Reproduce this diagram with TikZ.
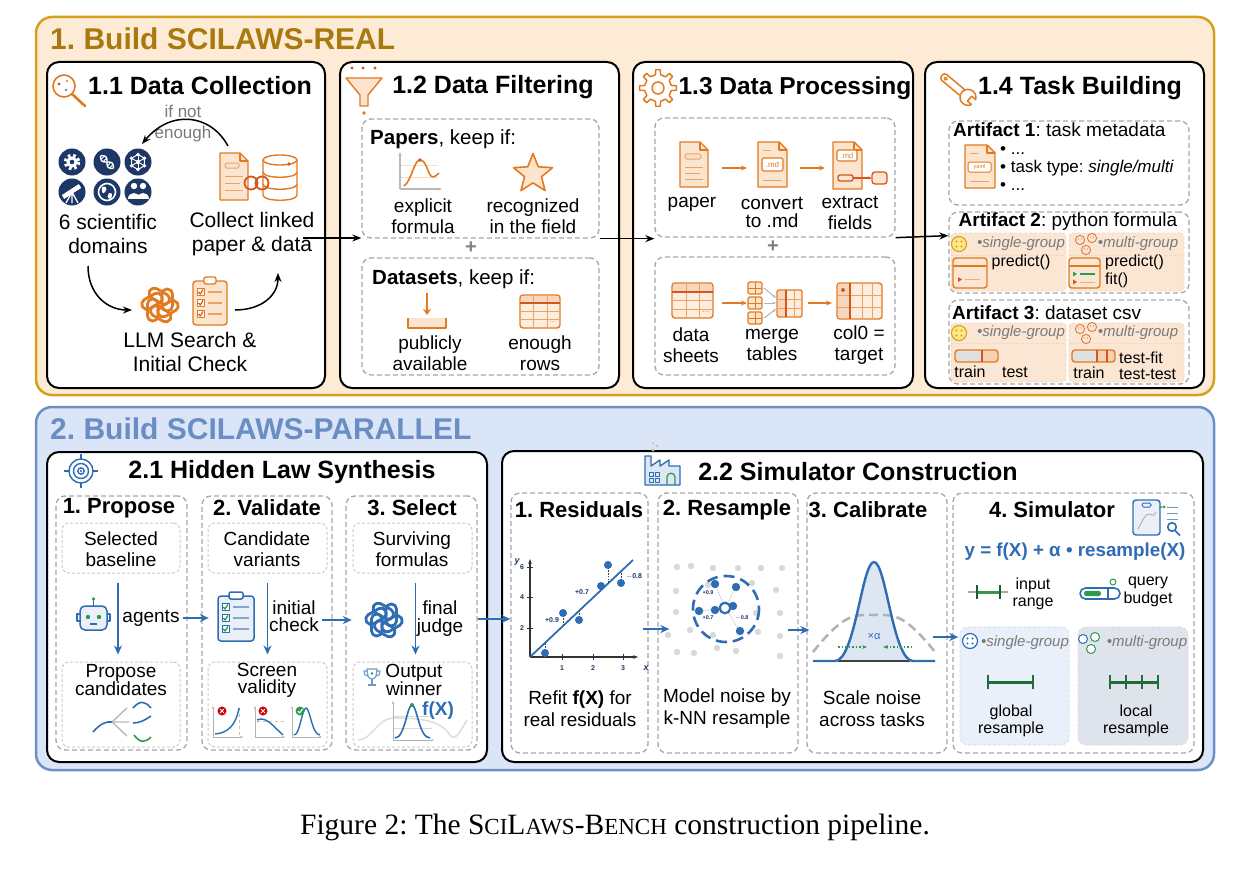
\documentclass[tikz,border=0pt]{standalone}
\usepackage{fontspec}
\setmainfont{Liberation Sans}
\newfontfamily\capfont{Liberation Serif}
\usetikzlibrary{arrows.meta,calc,fit,shapes.geometric}
\definecolor{orfill}{HTML}{FDEBD6}
\definecolor{orborder}{HTML}{D6A01E}
\definecolor{ortitle}{HTML}{A8790F}
\definecolor{oric}{HTML}{E27A22}
\definecolor{oricl}{HTML}{FCE5CF}
\definecolor{ored}{HTML}{D4561C}
\definecolor{blfill}{HTML}{DAE6F8}
\definecolor{blborder}{HTML}{6C8FC5}
\definecolor{bltitle}{HTML}{6A8DC3}
\definecolor{blic}{HTML}{2E6CB4}
\definecolor{blicl}{HTML}{DDE6F3}
\definecolor{navy}{HTML}{1D3766}
\definecolor{grn}{HTML}{2F9A4F}
\definecolor{gtxt}{HTML}{7A7A7A}
\definecolor{subor}{HTML}{FBE6D3}
\definecolor{subbl}{HTML}{EAF0FA}
\definecolor{subgr}{HTML}{DFE4EC}
\newcommand\fsz[2]{\fontsize{#1}{#2}\selectfont}
\newcommand\docic[4]{%
  \draw[draw=oric, line width=1.4, fill=oricl] (#1,#2) -- ({#3-8},#2) -- (#3,{#2+8}) -- (#3,#4) -- (#1,#4) -- cycle;
  \draw[draw=oric, line width=1.2] ({#3-8},#2) -- ({#3-8},{#2+8}) -- (#3,{#2+8});}
\tikzset{oai/.pic={\foreach \a in {0,60,...,300}{\draw[line width=2.8, rotate=\a, rounded corners=5] (2,-16) rectangle (12.5,6);}}}
\frenchspacing
\begin{document}
\frenchspacing
\begin{tikzpicture}[x=1pt,y=-1pt, line join=round,
  panel/.style={draw=black, fill=white, line width=2, rounded corners=12, inner sep=0},
  dbox/.style={draw=gray!70, dash pattern=on 5pt off 3pt, line width=1.3, rounded corners=9, inner sep=0},
  ibox/.style={draw=gray!40, dash pattern=on 3pt off 2pt, line width=1, rounded corners=7, inner sep=0},
  subp/.style={draw=oric!30, dash pattern=on 3pt off 2pt, line width=0.8, fill=subor, rounded corners=4, inner sep=0},
  txt/.style={font=\fsz{19}{21}, align=center, inner sep=0},
  big/.style={font=\fsz{21}{24}, align=center, inner sep=0},
  sml/.style={font=\fsz{16}{17.5}, align=center, inner sep=0},
  grp/.style={font=\fsz{15}{15}\itshape, text=gtxt, inner sep=0},
  sect/.style={font=\fsz{30}{32}\bfseries, anchor=west, inner sep=0},
  ptitle/.style={font=\fsz{25}{28}\bfseries, inner sep=0},
  chead/.style={font=\fsz{22}{24}\bfseries, inner sep=0},
  tiny/.style={font=\fsz{7}{7}\bfseries, text=navy, inner sep=0},
  conn/.style={-{Stealth[length=9pt,width=7pt]}, line width=1.5},
  oarr/.style={oric, line width=1.4, -{Stealth[length=6pt,width=5pt]}},
  barr/.style={blic, line width=1.6, -{Stealth[length=9pt,width=8pt]}},
  ol/.style={draw=oric, line width=1.4},
  ]
\useasboundingbox (0,0) rectangle (1234,888);
\fill[white] (0,0) rectangle (1234,888);

%================ SECTION 1 =================
\node[fit={(36,17)(1214,395)}, inner sep=0, draw=orborder, fill=orfill, line width=2.5, rounded corners=16] (s1) {};
\node[sect, text=ortitle] (s1t) at (50,39) {1. Build SCILAWS-REAL};
\node[panel, fit={(47,62)(325,388)}] (p11) {};
\node[panel, fit={(340,62)(619,388)}] (p12) {};
\node[panel, fit={(633,62)(913,388)}] (p13) {};
\node[panel, fit={(925,62)(1204,388)}] (p14) {};

%---- 1.1
\draw[oric, line width=1.6] (64,86) circle (11);
\draw[oric, line width=2.6, line cap=round] (72,94) -- (85,106);
\fill[ored] (59,84) circle (1.7); \fill[gray] (66,90) circle (1.4); \fill[oric] (67,81) circle (1.2);
\node[ptitle] (t11) at (200,86) {1.1 Data Collection};

% domains icons
\foreach \x/\y in {72/162,107/162,138/162,72/192,107/192,138/192}{\fill[navy] (\x,\y) circle (13.5);}
\draw[white, line width=3.2, dash pattern=on 2.67pt off 2.67pt] (72,162) circle (6.6);
\fill[white] (72,162) circle (5.6); \fill[navy] (72,162) circle (2.3);
\begin{scope}[shift={(107,162)}, rotate=-45]
 \draw[white, line width=1.4] (-9,0) sin (-4.5,3) cos (0,0) sin (4.5,-3) cos (9,0);
 \draw[white, line width=1.4] (-9,0) sin (-4.5,-3) cos (0,0) sin (4.5,3) cos (9,0);
 \foreach \u in {-6,-3,3,6}{\draw[white, line width=0.8] (\u,-2) -- (\u,2);}
\end{scope}
\begin{scope}[shift={(138,162)}]
 \foreach \a in {30,90,...,330}{\draw[white, line width=1] (0,0) -- (\a:7.5); \fill[white] (\a:7.5) circle (1.8);}
 \draw[white, line width=1] (30:7.5) -- (90:7.5) -- (150:7.5) -- (210:7.5) -- (270:7.5) -- (330:7.5) -- cycle;
 \fill[white] (0,0) circle (2.2);
\end{scope}
\draw[white, line width=4.5] (63,197) -- (80,186);
\draw[white, line width=1.3] (72,192) -- (66,203) (72,192) -- (78,203) (72,192) -- (72,203);
\draw[white, line width=1.6] (107,192) circle (8.5);
\fill[white] (102,187) .. controls (106,185) and (108,189) .. (105,192) .. controls (103,195) and (101,192) .. cycle;
\fill[white] (109,193) .. controls (113,192) and (113,197) .. (110,199) .. controls (107,198) and (107,195) .. cycle;
\fill[white] (134,186) circle (3.2); \fill[white] (143,186) circle (3.2);
\fill[white] (128,199) .. controls (128,191) and (140,191) .. (140,199) -- cycle;
\fill[white] (137,199) .. controls (137,191) and (149,191) .. (149,199) -- cycle;
\node[big] (dom) at (108,234) {6 scientific\\domains};

% doc + database
\docic{220}{153}{248}{200}
\draw[oric!70, line width=1, fill=oricl!40!oric!30, rounded corners=1.5] (225,163) rectangle (239,168);
\draw[oric!70, line width=1] (225,176) -- (243,176) (225,183) -- (240,183) (225,190) -- (243,190);
\draw[ol, fill=white] (263,160) -- (263,195) .. controls (263,202) and (297,202) .. (297,195) -- (297,160);
\draw[ol, fill=white] (280,160) ellipse (17 and 5);
\draw[ol] (263,172) .. controls (263,179) and (297,179) .. (297,172);
\draw[ol] (263,184) .. controls (263,191) and (297,191) .. (297,184);
\fill[ored] (289,164) circle (1.8);
\draw[ored, line width=1.8] (251,183) circle (6.5) (262,183) circle (6.5);
\node[big] (collect) at (252,234) {Collect linked\\paper \& data};

\node[font=\fsz{17}{21}, text=gtxt, align=center, inner sep=0] (ifnot) at (183,124) {if not\\enough};
\coordinate (ca1) at (228,146); \coordinate (ca2) at (142,144);
\draw[conn] (ca1) .. controls (210,113) and (170,110) .. (ca2);

% LLM search
\pic[color=oric] at (160,305) {oai};
\draw[ol, fill=oricl, rounded corners=3] (193,281) rectangle (227,325);
\draw[ol, fill=white, rounded corners=2] (204,277) rectangle (216,284);
\foreach \yy in {292,303,314}{
  \draw[oric, line width=1, fill=white] (197,{\yy-3.5}) rectangle (204,{\yy+3.5});
  \draw[ored, line width=1.2] (198.5,\yy) -- (200.3,{\yy+2}) -- (203,{\yy-2.5});
  \draw[oric!70, line width=1.2] (208,\yy) -- (222,\yy);}
\node[big] (llm) at (190,352) {LLM Search \&\\Initial Check};
\coordinate (cb1) at (88,266); \coordinate (cb2) at (132,310);
\coordinate (cc1) at (235,310); \coordinate (cc2) at (278,273);
\draw[conn] (cb1) .. controls (88,295) and (108,310) .. (cb2);
\draw[conn] (cc1) .. controls (262,310) and (278,295) .. (cc2);

%---- 1.2
\draw[ol, fill=oricl] (346,78) -- (382,78) -- (368,95) -- (368,106) -- (360,106) -- (360,95) -- cycle;
\foreach \x in {352,363,375}{\fill[ored] (\x,68) circle (1.6);}
\fill[oric] (364,113) circle (1.8);
\node[ptitle] (t12) at (493,87) {1.2 Data Filtering};
\node[dbox, fit={(362,119)(599,238)}] (papers) {};
\node[font=\fsz{20.5}{22}, inner sep=0, anchor=west] at (370,139) {\textbf{Papers}, keep if:};
\draw[oric!25, line width=0.8] (401,165) -- (438,165) (401,177) -- (438,177);
\draw[gray!55, line width=1.2, -{Stealth[length=4pt]}] (400,189) -- (400,152);
\draw[gray!55, line width=1.2, -{Stealth[length=4pt]}] (400,189) -- (442,189);
\draw[oric, line width=1.6] (404,186) .. controls (412,180) and (414,160) .. (420,160) .. controls (427,160) and (428,177) .. (433,177) .. controls (435,177) and (437,175) .. (439,173);
\fill[ored] (420,160) circle (1.8);
\node[star, star points=5, star point ratio=2.3, draw=oric, fill=oricl, line width=1.6, minimum size=41, inner sep=0] (star) at (533,174) {};
\node[txt] at (423,216) {explicit\\formula};
\node[txt] at (533,216) {recognized\\in the field};
\node[font=\fsz{20}{20}\bfseries, text=gray] at (471,248) {+};
\node[dbox, fit={(362,258)(599,375)}] (datasets) {};
\node[font=\fsz{20.5}{22}, inner sep=0, anchor=west] at (372,279) {\textbf{Datasets}, keep if:};
\draw[oric, line width=1.6, -{Stealth[length=6pt,width=8pt]}] (427,293) -- (427,315);
\fill[oricl] (408,318) rectangle (446,328);
\draw[ol] (408,318) -- (408,328) -- (446,328) -- (446,318);
\draw[ol, fill=oricl!70, rounded corners=3] (520,295) rectangle (560,328);
\fill[oric!30] (521,296) rectangle (559,303);
\draw[oric!70, line width=0.9] (533,295) -- (533,328) (547,295) -- (547,328) (520,311) -- (560,311) (520,319) -- (560,319);
\draw[ored, line width=1.4] (520,303) -- (560,303);
\node[font=\fsz{8}{8}, text=oric, inner sep=0] at (553,322) {...};
\node[txt] at (430,353) {publicly\\available};
\node[txt] at (540,353) {enough\\rows};

%---- 1.3
\begin{scope}[shift={(658,88)}]
\draw[oric, line width=1.5, fill=white] (-11:13.5) \foreach \t in {0,45,...,315} { -- (\t-11:13.5) -- (\t-7:18.5) -- (\t+7:18.5) -- (\t+11:13.5) } -- cycle;
\draw[oric, line width=1.5] (0,0) circle (6);
\end{scope}
\node[font=\fsz{24.5}{28}\bfseries, inner sep=0] (t13) at (795,88) {1.3 Data Processing};
\node[dbox, fit={(655,118)(895,237)}] (proc1) {};
\node[dbox, fit={(655,257)(895,375)}] (proc2) {};
\docic{680}{142}{708}{187}
\draw[oric!70, line width=1, fill=oric!25, rounded corners=1.5] (685,154) rectangle (701,159);
\draw[oric!70, line width=1] (685,167) -- (703,167) (685,173) -- (700,173) (685,179) -- (703,179);
\docic{758}{142}{787}{187}
\draw[oric!70, line width=1] (763,151) -- (771,151) (763,180) -- (782,180);
\draw[oric, line width=1.1, fill=white, rounded corners=2] (762,158) rectangle (783,171);
\node[font=\fsz{8}{8}, text=oric, inner sep=0] at (772.5,164.5) {.md};
\docic{833}{142}{862}{189}
\draw[oric, line width=1.1, fill=white, rounded corners=2] (837,150) rectangle (857,161);
\node[font=\fsz{7.5}{7.5}, text=oric, inner sep=0] at (847,155.5) {.md};
\draw[ored, line width=1.3, fill=oricl, rounded corners=2] (838,175) rectangle (853,181);
\draw[ored, line width=1.3, -{Stealth[length=4pt]}] (853,178) -- (872,178);
\draw[ored, line width=1.3, fill=oricl, rounded corners=3] (872,172) rectangle (887,184);
\draw[oarr] (722,168) -- (747,168);
\draw[oarr] (800,168) -- (825,168);
\node[txt] at (692,204) {paper};
\node[font=\fsz{19}{18}, align=center, inner sep=0] at (772,212) {convert\\to .md};
\node[txt] at (850,213) {extract\\fields};
\node[font=\fsz{20}{20}\bfseries, text=gray] at (773,247) {+};
% data sheets
\draw[ol, fill=oricl!70, rounded corners=3] (672,283) rectangle (713,318);
\fill[oric!30] (673,284) rectangle (712,292);
\draw[oric!70, line width=0.9] (686,283) -- (686,318) (699,283) -- (699,318) (672,300) -- (713,300) (672,309) -- (713,309);
\draw[ored, line width=1.4] (672,292) -- (713,292);
\node[font=\fsz{8}{8}, text=oric, inner sep=0] at (706,312) {...};
\draw[oarr] (722,303) -- (747,303);
\foreach \yy in {282,297,312}{
  \draw[oric, line width=1.1, fill=oricl, rounded corners=1.5] (748,\yy) rectangle (762,{\yy+12});
  \draw[oric, line width=0.8] (755,\yy) -- (755,{\yy+12}) (748,{\yy+6}) -- (762,{\yy+6});}
\draw[gray!60, line width=1, -{Stealth[length=3.5pt]}] (764,288) -- (776,298);
\draw[gray!60, line width=1, -{Stealth[length=3.5pt]}] (764,303) -- (776,303);
\draw[gray!60, line width=1, -{Stealth[length=3.5pt]}] (764,318) -- (776,309);
\draw[ol, fill=oricl!70, rounded corners=2] (777,290) rectangle (802,317);
\fill[oric!30] (778,291) rectangle (786,316);
\draw[oric!70, line width=0.8] (794,290) -- (794,317) (777,299) -- (802,299) (777,308) -- (802,308);
\draw[ored, line width=1.4] (786,290) -- (786,317);
\draw[oarr] (808,303) -- (832,303);
\draw[ol, fill=oricl!70, rounded corners=3] (837,283) rectangle (882,319);
\fill[oric!30] (838,284) rectangle (850,318);
\draw[oric!70, line width=0.9] (862,283) -- (862,319) (872,283) -- (872,319) (837,295) -- (882,295) (837,307) -- (882,307);
\draw[ored, line width=1.5] (850,283) -- (850,319);
\fill[ored] (843,290) circle (2);
\node[txt] at (691,345) {data\\sheets};
\node[txt] at (772,345) {merge\\tables};
\node[txt] at (859,345) {col0 =\\target};

%---- 1.4
\begin{scope}[shift={(958,89)}, rotate=-40]
 \draw[oric, line width=1.5, fill=white, rounded corners=3] (-21,-3.8) rectangle (7,3.8);
 \draw[oric, line width=1.5, fill=white] (13,0) circle (8);
 \fill[white] (15,-3.2) rectangle (22,3.2);
 \draw[oric, line width=1.5] (20.5,-3.2) -- (15,-3.2) -- (15,3.2) -- (20.5,3.2);
 \draw[oric, line width=1.2] (-16,0) circle (1.6);
\end{scope}
\node[ptitle] (t14) at (1080,88) {1.4 Task Building};
\node[dbox, fit={(949,121)(1189,205)}] (art1) {};
\node[txt, anchor=west] at (953,130) {\textbf{Artifact 1}: task metadata};
\docic{965}{145}{995}{188}
\draw[oric!70, line width=1] (970,154) -- (978,154) (970,181) -- (989,181);
\draw[oric, line width=1, fill=white, rounded corners=1.5] (968,162) rectangle (991,172);
\node[font=\fsz{5.5}{5.5}, text=oric, inner sep=0] at (979.5,167) {yaml};
\node[font=\fsz{17}{18}, align=left, anchor=west, inner sep=0] at (1000,169) {• ...\\• task type: \textit{single/multi}\\• ...};
\node[dbox, fit={(949,212)(1189,293)}] (art2) {};
\node[txt] at (1068,222) {\textbf{Artifact 2}: python formula};
\node[subp, fit={(951,233)(1066,291)}] (a2l) {};
\node[subp, fit={(1069,233)(1184,291)}] (a2r) {};
\draw[oric!30, dash pattern=on 3pt off 2pt, line width=0.8] (951,255) -- (1066,255) (1069,255) -- (1184,255);
\node[dbox, fit={(949,300)(1189,384)}] (art3) {};
\node[txt, anchor=west] at (952,313) {\textbf{Artifact 3}: dataset csv};
\node[subp, fit={(951,323)(1066,382)}] (a3l) {};
\node[subp, fit={(1069,323)(1184,382)}] (a3r) {};
\draw[oric!30, dash pattern=on 3pt off 2pt, line width=0.8] (951,343) -- (1066,343) (1069,343) -- (1184,343);
\foreach \yy in {244,333}{
  \draw[draw=orborder, fill=yellow!35!oricl, line width=1.1] (959,\yy) circle (7.5);
  \foreach \dx/\dy in {-2.5/-2.5,2.5/-2.5,-2.5/2.5,2.5/2.5}{\fill[orborder] ({959+\dx},{\yy+\dy}) circle (1.1);}
  \foreach \cx/\cy in {1080/-4,1092/-6,1086/6}{\draw[ored!80, fill=oricl, line width=0.9] (\cx,{\yy+\cy}) circle (4.6);
     \fill[ored!80] ({\cx-1.5},{\yy+\cy-1}) circle (0.7); \fill[ored!80] ({\cx+1.5},{\yy+\cy-1}) circle (0.7);}
  \node[grp] at (1021,\yy) {•single-group};
  \node[grp] at (1138,\yy) {•multi-group};}
\draw[ol, fill=subor, rounded corners=3] (953,258) rectangle (987,288);
\draw[ol] (953,266) -- (987,266);
\fill[ored] (958,277) -- (962,279.5) -- (958,282) -- cycle;
\draw[oric!60, line width=1] (965,279.5) -- (980,279.5);
\node[font=\fsz{16}{16}, inner sep=0] at (1021,262) {predict()};
\draw[ol, fill=subor, rounded corners=3] (1069,258) rectangle (1100,288);
\draw[ol] (1069,266) -- (1100,266);
\fill[grn] (1073,271.5) -- (1077,274) -- (1073,276.5) -- cycle;
\draw[grn, line width=1.1] (1080,274) -- (1095,274);
\fill[ored] (1073,279.5) -- (1077,282) -- (1073,284.5) -- cycle;
\draw[oric!60, line width=1] (1080,282) -- (1095,282);
\node[font=\fsz{16}{16}, inner sep=0, anchor=west] at (1105,262) {predict()};
\node[font=\fsz{16}{16}, inner sep=0, anchor=west] at (1105,280) {fit()};
\fill[gray!25, rounded corners=3] (955,350) rectangle (983,362);
\fill[oric!35, rounded corners=3] (981,350) rectangle (998,362);
\draw[ol, rounded corners=3] (955,350) rectangle (998,362);
\draw[ored, line width=1.3] (982,350) -- (982,362);
\node[font=\fsz{16}{16}, inner sep=0] at (970,372) {train};
\node[font=\fsz{16}{16}, inner sep=0] at (1015,372) {test};
\fill[gray!25, rounded corners=3] (1072,350) rectangle (1098,362);
\fill[oric!35, rounded corners=3] (1096,350) rectangle (1115,362);
\draw[ol, rounded corners=3] (1072,350) rectangle (1115,362);
\draw[ored, line width=1.3] (1097,350) -- (1097,362) (1107,350) -- (1107,362);
\node[font=\fsz{16}{16}, inner sep=0] at (1089,373) {train};
\node[font=\fsz{16}{16}, inner sep=0, anchor=west] at (1119,358) {test-fit};
\node[font=\fsz{16}{16}, inner sep=0, anchor=west] at (1119,374) {test-test};

% section 1 connectors
\coordinate (a12) at (303,238);
\draw[conn] (a12) -- (a12 -| papers.west);
\draw[conn] (papers.south east) -- (papers.south east -| proc1.west);
\draw[conn] (proc1.south east) -- ([yshift=2pt]proc1.south east -| art2.west);

%================ SECTION 2 =================
\node[fit={(36,407)(1214,770)}, inner sep=0, draw=blborder, fill=blfill, line width=2.5, rounded corners=16] (s2) {};
\node[sect, text=bltitle] (s2t) at (50,429) {2. Build SCILAWS-PARALLEL};
\node[panel, fit={(47,452)(487,762)}] (p21) {};
\node[panel, fit={(502,451)(1203,762)}] (p22) {};

%---- 2.1
\draw[blic, line width=1.4] (81,471) circle (12) (81,471) circle (7.5) (81,471) circle (3.2);
\fill[blic] (81,471) circle (1.2);
\draw[blic, line width=1.4] (81,454) -- (81,459) (81,483) -- (81,488) (64,471) -- (69,471) (93,471) -- (98,471);
\node[ptitle] (t21) at (282,472) {2.1 Hidden Law Synthesis};
\node[dbox, fit={(56,496)(187,750)}] (c1) {};
\node[dbox, fit={(202,496)(332,750)}] (c2) {};
\node[dbox, fit={(346,496)(477,750)}] (c3) {};
\node[chead] at (119,508) {1. Propose};
\node[chead] at (267,508) {2. Validate};
\node[chead] at (412,508) {3. Select};
\node[ibox, fit={(62,523)(180,573)}] (ib1) {};
\node[ibox, fit={(208,523)(327,573)}] (ib2) {};
\node[ibox, fit={(353,523)(472,573)}] (ib3) {};
\node[txt] at (121,549) {Selected\\baseline};
\node[txt] at (267,549) {Candidate\\variants};
\node[txt] at (412,549) {Surviving\\formulas};
\node[ibox, fit={(62,662)(180,747)}] (bb1) {};
\node[ibox, fit={(208,662)(327,747)}] (bb2) {};
\node[ibox, fit={(353,662)(472,747)}] (bb3) {};
\node[font=\fsz{19}{17}, align=center, inner sep=0] at (121,680) {Propose\\candidates};
\node[font=\fsz{19}{17}, align=center, inner sep=0] at (267,680) {Screen\\validity};
\node[font=\fsz{19}{17}, align=center, inner sep=0] at (414,680) {Output\\winner};
\draw[barr, shorten <=9pt, shorten >=7pt] ([xshift=-3pt]ib1.south) -- ([xshift=-3pt]bb1.north);
\draw[barr, shorten <=9pt, shorten >=7pt] (ib2.south) -- (bb2.north);
\draw[barr, shorten <=9pt, shorten >=7pt] ([xshift=3pt]ib3.south) -- ([xshift=3pt]bb3.north);
% robot
\draw[blic, line width=1.5, fill=blicl!60, rounded corners=5] (80,606) rectangle (107,630);
\draw[blic, line width=1.5] (93.5,606) -- (93.5,600); \fill[grn] (93.5,599) circle (1.8);
\fill[grn] (88,617) circle (2.2); \fill[grn] (99,617) circle (2.2);
\draw[blic, line width=1.2] (90,624) -- (97,624);
\draw[blic, line width=1.5] (80,614) -- (77,614) -- (77,621) -- (80,621) (107,614) -- (110,614) -- (110,621) -- (107,621);
\node[txt] (agents) at (151,618) {agents};
% clipboard blue
\node[inner sep=0, minimum width=36, minimum height=46] (clip2) at (236,618) {};
\draw[blic, line width=1.5, fill=blicl!60, rounded corners=3] (218,596) rectangle (254,641);
\draw[blic, line width=1.5, fill=white, rounded corners=2] (229,592) rectangle (243,599);
\foreach \yy in {607,618,629}{
  \draw[blic, line width=1, fill=white] (222,{\yy-3.5}) rectangle (229,{\yy+3.5});
  \draw[grn, line width=1.3] (223.3,\yy) -- (225,{\yy+2}) -- (228,{\yy-2.5});
  \draw[blic!60, line width=1.2] (233,\yy) -- (249,\yy);}
\draw[barr, shorten <=3pt, shorten >=9pt] (agents.east) -- (clip2.west);
\node[font=\fsz{19}{17.5}, align=center, inner sep=0] (check) at (294,616) {initial\\check};
\node[inner sep=0, minimum width=42, minimum height=42] (oai2) at (384,620) {};
\pic[color=blic] at (384,620) {oai};
\draw[barr, shorten <=3pt, shorten >=11pt] (check.east |- oai2) -- (oai2.west);
\node[font=\fsz{19}{18}, align=center, inner sep=0] (judge) at (440,619) {final\\judge};
% bottom pictures
\draw[blic, line width=1.6] (93,732) .. controls (100,724) and (106,721) .. (112,722);
\draw[gray!55, line width=1.4] (112,722) -- (127,708) (112,722) -- (129,722) (112,722) -- (127,736);
\draw[blic, line width=1.6] (133,708) .. controls (140,700) and (145,701) .. (151,708);
\draw[blic, line width=1.6] (133,723) .. controls (140,723) and (145,720) .. (151,716);
\draw[grn, line width=1.6] (134,735) .. controls (140,743) and (145,743) .. (151,737);
\foreach \ox in {213,255,292}{
  \draw[gray!60, line width=1, -{Stealth[length=3pt]}] (\ox,737) -- (\ox,706);
  \draw[gray!60, line width=1, -{Stealth[length=3pt]}] (\ox,737) -- ({\ox+30},737);}
\draw[gray!50, dashed, line width=0.7] (239,708) -- (239,737);
\draw[blic, line width=1.4] (215,734) .. controls (228,733) and (236,725) .. (239,708);
\draw[gray!50, dashed, line width=0.7] (257,721) -- (284,721);
\draw[blic, line width=1.4] (257,720) .. controls (266,716) and (272,725) .. (283,735);
\draw[blic, line width=1.4] (294,735) .. controls (300,735) and (302,708) .. (306,708) .. controls (310,708) and (312,735) .. (320,735);
\foreach \cx in {222,263}{\fill[red!80!black] (\cx,711) circle (4.5);
  \draw[white, line width=1] ({\cx-2},709) -- ({\cx+2},713) ({\cx-2},713) -- ({\cx+2},709);}
\fill[grn] (300,711) circle (4.5);
\draw[white, line width=1.1] (298,711) -- (299.5,713) -- (302.5,709);
% trophy
\draw[blic!70, line width=1.1, fill=white] (367,669) -- (377,669) -- (376,676) .. controls (375,680) and (369,680) .. (368,676) -- cycle;
\draw[blic!70, line width=1.1] (367,671) -- (364,671) -- (365,675) -- (368,676) (377,671) -- (380,671) -- (379,675) -- (376,676);
\draw[blic!70, line width=1.1] (372,679) -- (372,684) (368,685) -- (376,685);
\fill[grn] (372,673.5) circle (1.3);
\draw[gray!25, line width=1.6] (358,740) .. controls (372,740) and (378,718) .. (393,718) .. controls (420,718) and (440,720) .. (450,735) .. controls (455,742) and (460,732) .. (467,720);
\draw[gray!30, line width=0.8] (393,716) -- (432,716) (393,728) -- (432,728);
\draw[gray!60, line width=1, -{Stealth[length=3pt]}] (393,740) -- (393,701);
\draw[gray!60, line width=1, -{Stealth[length=3pt]}] (393,740) -- (434,740);
\draw[blic, line width=1.6] (395,738) .. controls (405,738) and (407,705) .. (412,705) .. controls (417,705) and (419,738) .. (430,738);
\fill[grn] (412,705) circle (2);
\node[font=\fsz{19}{19}\bfseries, text=blic, inner sep=0] at (438,711) {f(X)};

%---- 2.2
\draw[blic, line width=1.3, fill=blicl] (645,485) -- (645,456) -- (651,456) -- (651,466) -- (660,460) -- (660,466) -- (669,460) -- (669,466) -- (680,466) -- (680,485) -- cycle;
\draw[blic, line width=1] (649,472) rectangle (653,476) (655,472) rectangle (659,476) (649,478) rectangle (653,482) (655,478) rectangle (659,482);
\draw[grn, line width=1.3] (667,485) -- (667,477) .. controls (667,472) and (675,472) .. (675,477) -- (675,485);
\fill[gray!50] (653,450) circle (1.6) (657,446) circle (1.3) (653,443) circle (1);
\node[ptitle] (t22) at (858,472) {2.2 Simulator Construction};
\node[dbox, fit={(511,493)(648,753)}] (r1) {};
\node[dbox, fit={(658,493)(798,753)}] (r2) {};
\node[dbox, fit={(807,493)(947,753)}] (r3) {};
\node[dbox, fit={(953,493)(1194,753)}] (r4) {};
\node[chead] at (579,510) {1. Residuals};
\node[chead] at (727,510) {2. Resample};
\node[chead] at (868,510) {3. Calibrate};
\node[chead] at (1052,510) {4. Simulator};
\draw[barr] (c3.east |- judge) -- (r1.west |- judge);
% residual plot
\draw[gray!40!black, line width=1.2, -{Stealth[length=5pt]}] (530,657) -- (638,657);
\draw[gray!40!black, line width=1.2, -{Stealth[length=5pt]}] (530,657) -- (530,559);
\foreach \tx/\tl in {562/1,593/2,623/3}{\draw[gray!40!black, line width=1] (\tx,654) -- (\tx,660); \node[tiny] at (\tx,668) {\tl};}
\foreach \ty/\tl in {628/2,597/4,567/6}{\draw[gray!40!black, line width=1] (527,\ty) -- (533,\ty); \node[tiny] at (522,\ty) {\tl};}
\node[font=\fsz{9}{9}\bfseries\itshape, text=navy, inner sep=0] at (646,668) {x};
\node[font=\fsz{9}{9}\bfseries\itshape, text=navy, inner sep=0] at (517,562) {y};
\draw[blic, line width=1.8] (530,657) -- (633,560);
\foreach \px/\py/\ly in {545/653/643,563/613/626,579/620/611,601/586/590,608/565/583,621/583/571}{
  \draw[gray!50!black, line width=0.6, dash pattern=on 1.5pt off 1.2pt] (\px,\py) -- (\px,\ly);
  \fill[blic] (\px,\py) circle (4);}
\node[tiny] at (552,620) {+0.9};
\node[tiny] at (582,592) {+0.7};
\node[tiny] at (634,576) {$-$0.8};
\node[font=\fsz{19}{22}, align=center, inner sep=0] at (580,709) {Refit \textbf{f(X)} for\\real residuals};
% resample
\foreach \gx/\gy in {677/567,691/566,713/568,738/568,761/568,782/568,676/591,708/585,752/583,776/590,676/612,756/613,780/613,668/635,690/630,713/635,758/632,780/636,677/652,694/653,717/648,736/651,780/656}{\fill[gray!30] (\gx,\gy) circle (3.2);}
\foreach \bx/\by in {715/584,736/587,699/611,715/610,733/606,740/631}{\draw[gray!60, line width=0.6, dash pattern=on 1.5pt off 1.2pt] (725,608) -- (\bx,\by);}
\foreach \bx/\by in {715/584,736/587,699/611,715/610,733/606,740/631}{\fill[blic] (\bx,\by) circle (4.2);}
\draw[blic, line width=2.6, dash pattern=on 11pt off 6pt] (726,609) circle (33);
\draw[blic, line width=2.2, fill=white] (725,608) circle (5.3);
\node[font=\fsz{5.5}{5.5}\bfseries, text=navy, inner sep=0] at (708,593) {+0.9};
\node[font=\fsz{5.5}{5.5}\bfseries, text=navy, inner sep=0] at (708,618) {+0.7};
\node[font=\fsz{5.5}{5.5}\bfseries, text=navy, inner sep=0] at (742,618) {$-$0.8};
\node[font=\fsz{19}{22}, align=center, inner sep=0] at (727,709) {Model noise by\\k-NN resample};
% calibrate
\fill[blicl] (835,661) .. controls (855,661) and (862,562) .. (874,562) .. controls (886,562) and (893,661) .. (913,661) -- cycle;
\draw[gray!60, line width=2.5, dash pattern=on 9pt off 5pt] (813,652) .. controls (845,612) and (855,615) .. (874,615) .. controls (893,615) and (903,612) .. (935,652);
\draw[gray!50!black, line width=1.5] (838,661) -- (910,661);
\draw[blic, line width=2.4] (813,661) -- (835,661) .. controls (855,661) and (862,562) .. (874,562) .. controls (886,562) and (893,661) .. (913,661) -- (935,661);
\draw[grn, line width=1.5, dotted, -{Stealth[length=5pt]}] (838,647) -- (867,647);
\draw[grn, line width=1.5, dotted, -{Stealth[length=5pt]}] (912,647) -- (883,647);
\node[font=\fsz{11}{11}, text=blic, inner sep=0] at (874,636) {×α};
\node[font=\fsz{19}{22}, align=center, inner sep=0] at (872,709) {Scale noise\\across tasks};
% simulator
\draw[blic, line width=1.4, fill=blicl!60, rounded corners=3] (1133,500) rectangle (1160,535);
\draw[blic, line width=1, rounded corners=1.5] (1142,503) rectangle (1151,507);
\draw[gray!60, line width=1] (1138,529) .. controls (1143,520) and (1145,514) .. (1149,514) .. controls (1152,514) and (1153,518) .. (1156,512);
\fill[grn] (1164,507) circle (1.5);
\draw[blic!70, line width=1] (1167,507) -- (1178,507) (1167,513) -- (1178,513) (1167,519) -- (1178,519);
\draw[grn, line width=1, -{Stealth[length=3pt]}] (1159,507) -- (1163,507);
\draw[blic, line width=1.6] (1172,527) circle (4.3) (1175,530.5) -- (1180,535.5);
\node[font=\fsz{18.8}{20}\bfseries, text=blic, inner sep=0] at (1075,552) {y = f(X) + α • resample(X)};
\draw[gray!70, line width=1.3] (968,592) -- (1008,592);
\draw[grn, line width=3] (977,592) -- (1000,592);
\draw[grn!60!black, line width=1.3] (977,585) -- (977,599) (1000,585) -- (1000,599);
\node[sml] at (1033,594) {input\\range};
\draw[blic, line width=1.6, fill=white, rounded corners=5.5] (1080,588) rectangle (1120,599);
\fill[grn, rounded corners=2.5] (1084,590.8) rectangle (1101,596.2);
\draw[blic, line width=1.2] (1108,588) -- (1108,599);
\draw[grn, line width=1] (1113,582) circle (3);
\node[sml] at (1148,592) {query\\budget};
\node[fit={(960,627)(1069,745)}, inner sep=0, fill=subbl, draw=blic!25, dash pattern=on 3pt off 2pt, line width=0.8, rounded corners=8] (s41) {};
\node[fit={(1078,627)(1188,745)}, inner sep=0, fill=subgr, draw=gray!30, dash pattern=on 3pt off 2pt, line width=0.8, rounded corners=8] (s42) {};
\draw[blic, line width=1.2, fill=white] (970,641) circle (7.5);
\foreach \dx/\dy in {-2.5/-2.5,2.5/-2.5,-2.5/2.5,2.5/2.5}{\fill[blic] ({970+\dx},{641+\dy}) circle (1.1);}
\node[grp] at (1025,643) {•single-group};
\draw[grn!70!black, line width=3] (988,682) -- (1033,682);
\draw[grn!70!black, line width=1.4] (988,675) -- (988,689) (1033,675) -- (1033,689);
\node[sml] at (1011,721) {global\\resample};
\draw[blic, line width=1, fill=white] (1083,639) circle (4.5);
\draw[grn, line width=1, fill=white] (1095,637) circle (4.5);
\draw[grn, line width=1, fill=white] (1091,649) circle (4.5);
\node[grp] at (1147,643) {•multi-group};
\draw[grn!70!black, line width=3] (1110,682) -- (1158,682);
\foreach \tx in {1110,1126,1142,1158}{\draw[grn!70!black, line width=1.4] (\tx,675) -- (\tx,689);}
\node[sml] at (1136,721) {local\\resample};
% 2.2 connectors
\draw[barr] ($(r1.east)+(-6,6)$) -- ($(r2.west)+(12,6)$);
\draw[barr] ($(r2.east)+(-11,7)$) -- ($(r3.west)+(3,7)$);
\draw[barr] ($(r3.east)+(-15,14)$) -- ($(r4.west)+(6,14)$);

%================ CAPTION =================
\node[font=\capfont\fsz{29.5}{30}, inner sep=0] (cap) at (615,827) {Figure 2: The S{\fsz{23}{23}CI}L{\fsz{23}{23}AWS}-B{\fsz{23}{23}ENCH} construction pipeline.};
\end{tikzpicture}
\end{document}
